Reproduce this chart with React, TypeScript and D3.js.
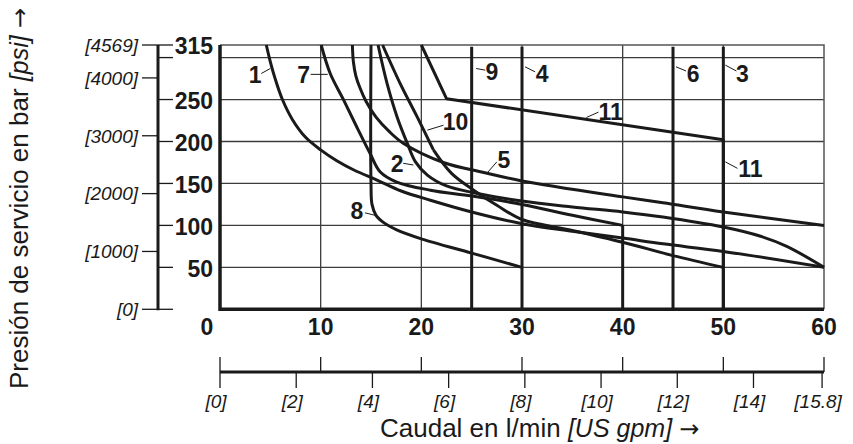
import React, { useEffect, useRef } from 'react';
import * as d3 from 'd3';

const W = 853;
const H = 444;

// grid + tick values
const flowGrid = [10, 20, 30, 40, 50];
const pressureGrid = [50, 100, 150, 200, 250, 300];
const barTicks = [0, 50, 100, 150, 200, 250, 300, 315];
const barLabels = ['', '50', '100', '150', '200', '250', '', '315'];
const psiTicks = [0, 1000, 2000, 3000, 4000, 4569];
const psiLabels = ['[0]', '[1000]', '[2000]', '[3000]', '[4000]', '[4569]'];
const lpmTicks = [0, 10, 20, 30, 40, 50, 60];
const lpmLabels = ['0', '10', '20', '30', '40', '50', '60'];
const gpmTicks = [0, 2, 4, 6, 8, 10, 12, 14, 15.8];
const gpmLabels = ['[0]', '[2]', '[4]', '[6]', '[8]', '[10]', '[12]', '[14]', '[15.8]'];

// curves: [l/min, bar]
const curve1 = [[4.6, 315], [5.0, 295], [5.5, 274], [6.2, 250], [7.2, 226], [8.5, 205], [10, 190], [11.6, 177], [13.3, 166], [15.6, 154], [18, 141], [20.9, 130], [25, 116], [30, 102], [35, 93], [40, 85], [44, 78], [50, 69], [60, 50]];
const curve2 = [[15.7, 315], [16.6, 269], [17.6, 229], [18.6, 198], [19.4, 176], [20.6, 160], [22.5, 147], [25.2, 139], [30, 129], [35, 122], [40, 116], [44, 110], [50, 98], [53.7, 87], [56.3, 75], [60, 50]];
const curve5 = [[13.15, 315], [13.25, 295], [13.5, 278], [13.9, 264], [14.5, 248], [15.5, 229], [16.8, 212], [18.2, 198], [22.2, 175], [26.2, 163], [30, 153], [40, 134], [44, 127], [50, 116], [60, 100]];
const curve7 = [[10.05, 315], [10.95, 281], [12.3, 249], [13.6, 217], [14.9, 186], [15.9, 164], [17.5, 152], [20.9, 142], [25, 135], [30, 125], [35, 112], [40, 100]];
const curve7drop = [[40, 100], [40, 0]];
const curve8 = [[15, 315], [15, 150], [15.1, 125], [15.5, 112], [16.3, 103], [17.5, 95], [20, 84], [25, 67], [30, 50]];
const curve10 = [[16.15, 315], [17.9, 269], [19.6, 229], [21.2, 190]];
const curve10tail = [[21.2, 190], [23, 162], [25.2, 142], [27.5, 124], [30, 107], [35, 94], [40, 80], [45, 64], [50, 50]];
const curve11 = [[20, 315], [22.5, 251], [50, 202], [50, 0]];
const verticals = [25, 30, 45, 50]; // curves 9, 4, 6, 3

const smoothCurves = [curve1, curve2, curve5, curve7, curve8, curve10, curve10tail];
const straightCurves = [curve7drop, curve11];

// label placement: text centre, leader from -> to (data coords)
const curveLabels = [
  { t: '1', at: [3.5, 279], a: [4.1, 281], b: [5.0, 287] },
  { t: '7', at: [8.3, 280], a: [9.0, 280], b: [10.7, 280] },
  { t: '9', at: [27.0, 283], a: [25.45, 287], b: [26.35, 285] },
  { t: '4', at: [32.0, 281], a: [30.3, 289], b: [31.3, 283] },
  { t: '6', at: [47.0, 281], a: [45.3, 289], b: [46.3, 284] },
  { t: '3', at: [51.9, 281], a: [50.2, 291], b: [51.3, 284] },
  { t: '10', at: [23.4, 223], a: [20.6, 213.5], b: [22.2, 219.4] },
  { t: '2', at: [17.6, 174], a: [18.2, 174], b: [19.2, 172] },
  { t: '5', at: [28.2, 178], a: [26.5, 162], b: [27.5, 175.7] },
  { t: '8', at: [13.6, 118], a: [14.4, 115], b: [15.4, 112] },
  { t: '11', at: [38.8, 235], a: [36.4, 228.6], b: [37.6, 235] },
  { t: '11', at: [52.7, 168], a: [50.2, 175.7], b: [51.4, 168] },
];

const BOLD = "'Liberation Sans Narrow', 'Liberation Sans', Arial, sans-serif";
const SANS = "'Liberation Sans', Arial, sans-serif";
const ARROW = "'DejaVu Sans', sans-serif";
const INK = '#1a1a1a';

export default function App() {
  const ref = useRef<SVGSVGElement>(null);

  useEffect(() => {
    const svg = d3.select(ref.current);
    svg.selectAll('*').remove();

    const x = d3.scaleLinear().domain([0, 60]).range([220, 824]);
    const y = d3.scaleLinear().domain([0, 315]).range([309.3, 45]);
    const yPsi = d3.scaleLinear().domain([0, 4569]).range([309.3, 45]);
    const xGpm = d3.scaleLinear().domain([0, 60 / 3.7854]).range([220, 824]);

    // grid
    svg.append('g').selectAll('line').data(flowGrid).join('line')
      .attr('x1', d => x(d)).attr('x2', d => x(d))
      .attr('y1', y(0)).attr('y2', y(315))
      .attr('stroke', '#3c3c3c').attr('stroke-width', 1.3);
    svg.append('g').selectAll('line').data(pressureGrid).join('line')
      .attr('x1', x(0)).attr('x2', x(60))
      .attr('y1', d => y(d)).attr('y2', d => y(d))
      .attr('stroke', '#3c3c3c').attr('stroke-width', 1.3);

    // thin top / right border
    svg.append('path')
      .attr('d', `M${x(0)},${y(315)}H${x(60)}V${y(0)}`)
      .attr('fill', 'none').attr('stroke', '#555').attr('stroke-width', 1.5);

    // curves
    const smooth = d3.line<number[]>().x(d => x(d[0])).y(d => y(d[1]))
      .curve(d3.curveCatmullRom.alpha(0.5));
    const straight = d3.line<number[]>().x(d => x(d[0])).y(d => y(d[1]));
    const cg = svg.append('g').attr('fill', 'none').attr('stroke', INK)
      .attr('stroke-width', 3).attr('stroke-linejoin', 'round');
    cg.selectAll('path.s').data(smoothCurves).join('path').attr('class', 's').attr('d', d => smooth(d));
    cg.selectAll('path.l').data(straightCurves).join('path').attr('class', 'l').attr('d', d => straight(d));
    cg.selectAll('line').data(verticals).join('line')
      .attr('x1', d => x(d)).attr('x2', d => x(d))
      .attr('y1', y(0)).attr('y2', y(313));

    // thick left / bottom frame
    svg.append('path')
      .attr('d', `M${x(0)},${y(315)}V${y(0)}H${x(60)}`)
      .attr('fill', 'none').attr('stroke', INK).attr('stroke-width', 3.5);

    // curve labels
    const lg = svg.append('g');
    lg.selectAll('line').data(curveLabels).join('line')
      .attr('x1', d => x(d.a[0])).attr('y1', d => y(d.a[1]))
      .attr('x2', d => x(d.b[0])).attr('y2', d => y(d.b[1]))
      .attr('stroke', INK).attr('stroke-width', 1);
    lg.selectAll('text').data(curveLabels).join('text')
      .attr('x', d => x(d.at[0])).attr('y', d => y(d.at[1]))
      .attr('dy', '0.36em').attr('text-anchor', 'middle')
      .attr('font-family', BOLD).attr('font-weight', 'bold').attr('font-size', 23)
      .attr('fill', INK).text(d => d.t);

    // left axis (bar right side, psi left side)
    const ax = 158;
    const ag = svg.append('g');
    ag.append('line').attr('x1', ax).attr('x2', ax).attr('y1', y(0) + 1).attr('y2', y(315))
      .attr('stroke', INK).attr('stroke-width', 3);
    ag.selectAll('line.bt').data(barTicks).join('line').attr('class', 'bt')
      .attr('x1', ax).attr('x2', ax + 15).attr('y1', d => y(d)).attr('y2', d => y(d))
      .attr('stroke', INK).attr('stroke-width', 1.3);
    ag.selectAll('text.bl').data(barTicks).join('text').attr('class', 'bl')
      .attr('x', 213).attr('y', d => y(d) + 1).attr('dy', '0.36em')
      .attr('text-anchor', 'end').attr('font-family', BOLD).attr('font-weight', 'bold')
      .attr('font-size', 23).attr('fill', INK)
      .text((d, i) => barLabels[i]);
    ag.selectAll('line.pt').data(psiTicks).join('line').attr('class', 'pt')
      .attr('x1', ax - 16).attr('x2', ax).attr('y1', d => yPsi(d)).attr('y2', d => yPsi(d))
      .attr('stroke', INK).attr('stroke-width', 1.3);
    ag.selectAll('text.pl').data(psiTicks).join('text').attr('class', 'pl')
      .attr('x', 138).attr('y', d => yPsi(d)).attr('dy', '0.36em')
      .attr('text-anchor', 'end').attr('font-family', SANS).attr('font-style', 'italic')
      .attr('font-size', 19).attr('fill', INK)
      .text((d, i) => psiLabels[i]);

    // l/min labels under the plot
    svg.append('g').selectAll('text').data(lpmTicks).join('text')
      .attr('x', d => (d === 0 ? x(d) - 13 : x(d))).attr('y', 327).attr('dy', '0.36em')
      .attr('text-anchor', 'middle').attr('font-family', BOLD).attr('font-weight', 'bold')
      .attr('font-size', 23).attr('fill', INK)
      .text((d, i) => lpmLabels[i]);

    // second flow axis (l/min above, US gpm below)
    const by = 372;
    const bg = svg.append('g');
    bg.append('line').attr('x1', x(0)).attr('x2', x(60)).attr('y1', by).attr('y2', by)
      .attr('stroke', INK).attr('stroke-width', 3);
    bg.selectAll('line.lt').data(lpmTicks).join('line').attr('class', 'lt')
      .attr('x1', d => x(d)).attr('x2', d => x(d)).attr('y1', by - 15).attr('y2', by)
      .attr('stroke', INK).attr('stroke-width', 1.3);
    bg.selectAll('line.gt').data(gpmTicks).join('line').attr('class', 'gt')
      .attr('x1', d => xGpm(d)).attr('x2', d => xGpm(d)).attr('y1', by).attr('y2', by + 16)
      .attr('stroke', INK).attr('stroke-width', 1.3);
    bg.selectAll('text').data(gpmTicks).join('text')
      .attr('x', d => xGpm(d) - 4).attr('y', 401).attr('dy', '0.36em')
      .attr('text-anchor', 'middle').attr('font-family', SANS).attr('font-style', 'italic')
      .attr('font-size', 19).attr('fill', INK)
      .text((d, i) => gpmLabels[i]);

    // axis titles
    const xt = svg.append('text').attr('x', 380).attr('y', 437).attr('text-anchor', 'start')
      .attr('font-family', SANS).attr('font-size', 26).attr('fill', INK);
    xt.append('tspan').text('Caudal en l/min ');
    xt.append('tspan').attr('font-style', 'italic').attr('font-family', BOLD).attr('font-size', 25).text('[US gpm]');
    xt.append('tspan').text(' ');
    xt.append('tspan').attr('font-family', ARROW).attr('font-size', 24).text('\u2192');

    const yt = svg.append('text').attr('transform', 'translate(28,8) rotate(-90)')
      .attr('text-anchor', 'end').attr('font-family', SANS).attr('font-size', 26).attr('fill', INK);
    yt.append('tspan').text('Presión de servicio en bar ');
    yt.append('tspan').attr('font-style', 'italic').attr('font-family', BOLD).attr('font-size', 25).text('[psi]');
    yt.append('tspan').text(' ');
    yt.append('tspan').attr('font-family', ARROW).attr('font-size', 24).text('\u2192');
  }, []);

  return (
    <div style={{ position: 'absolute', left: 0, top: 0 }}>
      <svg ref={ref} width={W} height={H} style={{ display: 'block', background: '#fff' }} />
    </div>
  );
}
